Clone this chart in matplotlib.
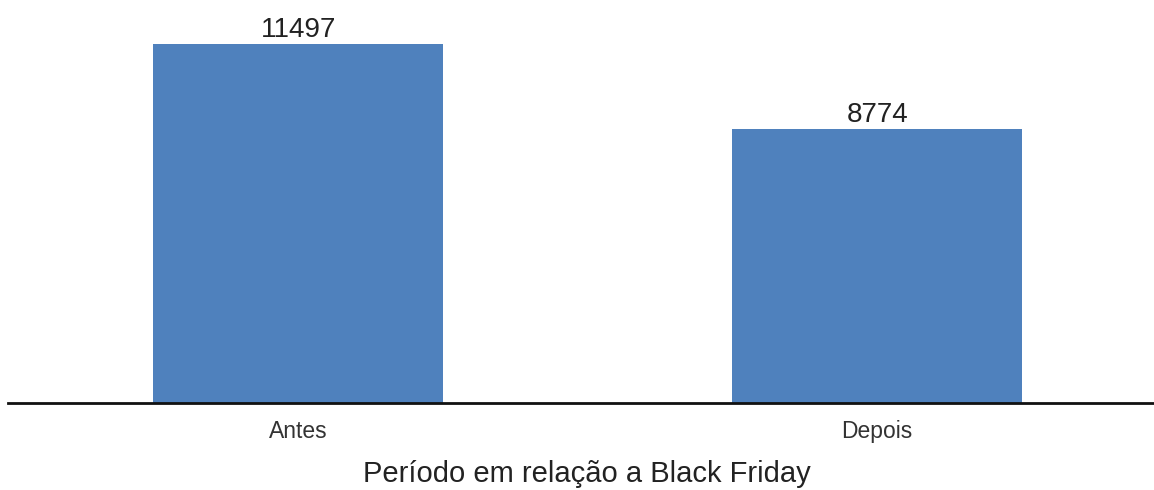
import matplotlib.pyplot as plt

categories = ["Antes", "Depois"]
values = [11497, 8774]

plt.rcParams['font.family'] = ['Liberation Sans', 'DejaVu Sans']

fig = plt.figure(figsize=(11.54, 4.9), dpi=100)
ax = fig.add_axes([8 / 1154, 87 / 490, 1 - 8 / 1154, 403 / 490])

x = list(range(len(categories)))
bars = ax.bar(x, values, width=0.5, color="#4f81bd")
for b, v in zip(bars, values):
    ax.annotate(str(v), (b.get_x() + b.get_width() / 2, v), xytext=(0, 1),
                textcoords="offset points", ha="center", va="bottom",
                fontsize=20, color="#222222")

ax.set_xlim(-0.501, 1.478)
ax.set_ylim(0, 12906)
ax.set_xticks(x)
ax.set_xticklabels(categories, fontsize=16.5, color="#333333")
ax.tick_params(axis="x", length=0, pad=12)
ax.set_yticks([])
for s in ["top", "right", "left"]:
    ax.spines[s].set_visible(False)
ax.spines["bottom"].set_linewidth(2)
ax.spines["bottom"].set_color("#111111")
ax.set_xlabel("Período em relação a Black Friday", fontsize=21, color="#222222")
ax.xaxis.set_label_coords(0.5055, -57 / 403)

fig.savefig("out.png", dpi=100)
